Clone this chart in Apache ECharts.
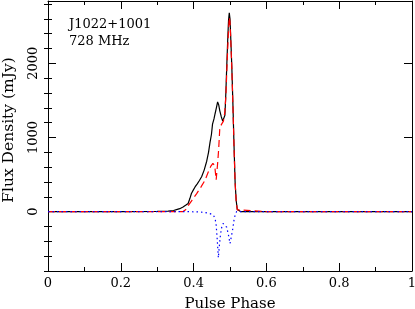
<!DOCTYPE html>
<html><head><meta charset="utf-8">
<script src="https://cdn.jsdelivr.net/npm/echarts@6/dist/echarts.min.js"></script>
<style>html,body{margin:0;padding:0;background:#fff}#c{width:415px;height:309px}</style>
</head><body><div id="c"></div>
<script>
// Total intensity (black solid)
const totalPhase = [0, 0.1, 0.2, 0.3, 0.33, 0.345, 0.353, 0.362, 0.371, 0.378, 0.385, 0.39, 0.394, 0.399, 0.404, 0.41, 0.416, 0.422, 0.429, 0.436, 0.441, 0.445, 0.449, 0.452, 0.456, 0.459, 0.463, 0.466, 0.469, 0.472, 0.476, 0.48, 0.483, 0.486, 0.488, 0.491, 0.494, 0.496, 0.498, 0.5, 0.502, 0.505, 0.508, 0.511, 0.514, 0.517, 0.52, 0.524, 0.53, 0.6, 0.7, 0.8, 0.9, 1.0];
const totalFlux  = [0, 0, 0, 3, 8, 15, 27, 40, 62, 85, 110, 180, 245, 290, 333, 375, 420, 470, 560, 680, 800, 930, 1040, 1180, 1250, 1320, 1410, 1480, 1440, 1360, 1280, 1220, 1210, 1300, 1520, 1950, 2350, 2580, 2680, 2600, 2350, 1950, 1450, 900, 400, 150, 30, 5, 0, 0, 0, 0, 0, 0];
// Linear polarisation (red dashed)
const linPhase = [0, 0.1, 0.2, 0.3, 0.37, 0.378, 0.385, 0.395, 0.408, 0.42, 0.431, 0.44, 0.447, 0.453, 0.458, 0.462, 0.466, 0.469, 0.472, 0.477, 0.482, 0.486, 0.489, 0.492, 0.495, 0.498, 0.5, 0.502, 0.505, 0.508, 0.511, 0.514, 0.517, 0.52, 0.525, 0.6, 0.7, 0.8, 0.9, 1.0];
const linFlux  = [0, 0, 0, 0, 0, 25, 80, 150, 240, 330, 420, 530, 610, 650, 620, 430, 650, 850, 1130, 1180, 1220, 1350, 1600, 2000, 2350, 2620, 2560, 2330, 1930, 1430, 880, 390, 140, 25, 0, 0, 0, 0, 0, 0];
// Circular polarisation (blue dotted)
const circPhase = [0, 0.1, 0.2, 0.3, 0.38, 0.41, 0.43, 0.445, 0.454, 0.459, 0.462, 0.465, 0.468, 0.471, 0.474, 0.478, 0.481, 0.486, 0.491, 0.496, 0.5, 0.503, 0.507, 0.512, 0.518, 0.6, 0.7, 0.8, 0.9, 1.0];
const circFlux  = [0, 0, 0, 0, 0, -3, -10, -27, -45, -90, -180, -380, -620, -450, -300, -190, -160, -175, -210, -320, -430, -420, -250, -80, 0, 0, 0, 0, 0, 0];

const yMajorTicks = [0, 1000, 2000];
const yMinorTicks = [-800, -600, -400, -200, 200, 400, 600, 800, 1200, 1400, 1600, 1800, 2200, 2400, 2600, 2800];
const xMajorTicks = [0, 0.2, 0.4, 0.6, 0.8, 1];

const pulsarName = 'J1022+1001';
const freqLabel = '728 MHz';

const FONT = 'DejaVu Serif';
const Y_MIN = -800, Y_MAX = 2840;

function pairs(xs, ys) { return xs.map((x, i) => [x, ys[i]]); }

const chart = echarts.init(document.getElementById('c'), null, {renderer: 'canvas'});

const xBase = {type: 'value', min: 0, max: 1, interval: 0.2,
  splitLine: {show: false},
  axisLine: {show: true, onZero: false, lineStyle: {color: '#000', width: 1}},
  axisTick: {show: true, inside: true, length: 8, lineStyle: {color: '#000'}},
  minorTick: {show: true, splitNumber: 2, length: 4, lineStyle: {color: '#000'}}
};
const yBase = {type: 'value', min: Y_MIN, max: Y_MAX,
  splitLine: {show: false},
  axisLine: {show: true, onZero: false, lineStyle: {color: '#000', width: 1}}
};

chart.setOption({
  animation: false,
  backgroundColor: '#fff',
  title: {text: pulsarName + '\n' + freqLabel, left: 64, top: 11,
    textStyle: {fontFamily: FONT, fontSize: 13, fontWeight: 'normal', color: '#000', lineHeight: 17}},
  grid: {left: 48, right: 3, top: 1, bottom: 38, containLabel: false, outerBoundsMode: 'none'},
  xAxis: [
    Object.assign({}, xBase, {position: 'bottom',
      name: 'Pulse Phase', nameLocation: 'middle', nameGap: 26,
      nameTextStyle: {fontFamily: FONT, fontSize: 15, color: '#000'},
      axisLabel: {show: true, margin: 6, fontFamily: FONT, fontSize: 13, color: '#000',
        customValues: xMajorTicks, formatter: v => String(v)}}),
    Object.assign({}, xBase, {position: 'top', axisLabel: {show: false}})
  ],
  yAxis: [
    Object.assign({}, yBase, {position: 'left',
      name: 'Flux Density (mJy)', nameLocation: 'middle', nameGap: 31,
      nameTextStyle: {fontFamily: FONT, fontSize: 15.5, color: '#000', padding: [0, 0, 0, 12]},
      axisTick: {show: true, inside: true, length: 8, customValues: yMajorTicks, lineStyle: {color: '#000'}},
      axisLabel: {show: true, rotate: 90, margin: 8, fontFamily: FONT, fontSize: 13, color: '#000',
        customValues: yMajorTicks, formatter: v => String(v)}}),
    Object.assign({}, yBase, {position: 'right',
      axisTick: {show: true, inside: true, length: 8, customValues: yMajorTicks, lineStyle: {color: '#000'}},
      axisLabel: {show: false}}),
    Object.assign({}, yBase, {position: 'left', offset: 0, axisLine: {show: false},
      axisTick: {show: true, inside: true, length: 4, customValues: yMinorTicks, lineStyle: {color: '#000'}},
      axisLabel: {show: false}}),
    Object.assign({}, yBase, {position: 'right', offset: 0, axisLine: {show: false},
      axisTick: {show: true, inside: true, length: 4, customValues: yMinorTicks, lineStyle: {color: '#000'}},
      axisLabel: {show: false}})
  ],
  series: [
    {type: 'line', name: 'I', xAxisIndex: 0, yAxisIndex: 0, data: pairs(totalPhase, totalFlux),
      showSymbol: false, lineStyle: {color: '#000', width: 1.2}, z: 3},
    {type: 'line', name: 'L', xAxisIndex: 0, yAxisIndex: 0, data: pairs(linPhase, linFlux),
      showSymbol: false, lineStyle: {color: '#ff0000', width: 1.2, type: [7, 4]}, z: 4},
    {type: 'line', name: 'V', xAxisIndex: 0, yAxisIndex: 0, data: pairs(circPhase, circFlux),
      showSymbol: false, lineStyle: {color: '#0000ff', width: 1.2, type: [1.5, 3]}, z: 5}
  ]
});
</script></body></html>
